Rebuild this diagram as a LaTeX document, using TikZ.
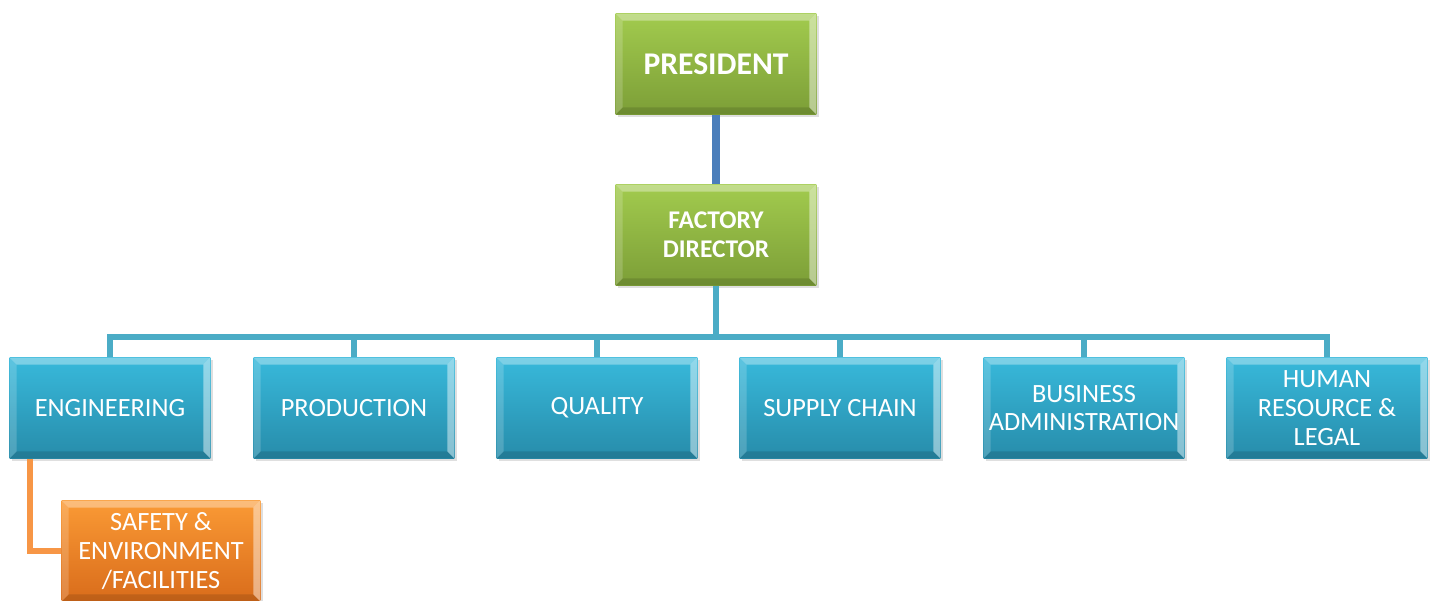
\documentclass[tikz,border=0pt]{standalone}
\usepackage{fontspec}
\setmainfont{Carlito}
\usetikzlibrary{shadows,calc}

\definecolor{greentop}{HTML}{A2CB4E}
\definecolor{greenbot}{HTML}{7C9E37}
\definecolor{bluetop}{HTML}{38B9DB}
\definecolor{bluebot}{HTML}{278CAA}
\definecolor{orangetop}{HTML}{FA9A35}
\definecolor{orangebot}{HTML}{D96C1B}
\definecolor{busblue}{HTML}{4BACC6}
\definecolor{topline}{HTML}{4A7EBB}
\definecolor{orangeline}{HTML}{F79646}

\begin{document}
\begin{tikzpicture}[x=0.02cm, y=-0.02cm,
      every node/.append style={text=white, align=center},
      bevel/.style={path picture={
        \fill[white,opacity=.35] (path picture bounding box.north west) -- (path picture bounding box.north east)
          -- ([shift={(-4pt,-4pt)}]path picture bounding box.north east) -- ([shift={(4pt,-4pt)}]path picture bounding box.north west) -- cycle;
        \fill[white,opacity=.18] (path picture bounding box.north west) -- (path picture bounding box.south west)
          -- ([shift={(4pt,4pt)}]path picture bounding box.south west) -- ([shift={(4pt,-4pt)}]path picture bounding box.north west) -- cycle;
        \fill[white,opacity=.45] (path picture bounding box.north east) -- (path picture bounding box.south east)
          -- ([shift={(-4pt,4pt)}]path picture bounding box.south east) -- ([shift={(-4pt,-4pt)}]path picture bounding box.north east) -- cycle;
        \fill[black,opacity=.12] (path picture bounding box.south west) -- (path picture bounding box.south east)
          -- ([shift={(-4pt,4pt)}]path picture bounding box.south east) -- ([shift={(4pt,4pt)}]path picture bounding box.south west) -- cycle;
      }}]
    \tikzstyle{unit} = [minimum width=4.02cm, minimum height=2.02cm, inner sep=0pt, bevel,
      drop shadow={shadow xshift=1.5pt, shadow yshift=-1.5pt, opacity=.25}]
    \tikzstyle{head} = [unit, top color=greentop, bottom color=greenbot, font=\bfseries\fontsize{14.5}{16.4}\selectfont]
    \tikzstyle{dept} = [unit, top color=bluetop, bottom color=bluebot, font=\fontsize{15}{16.4}\selectfont]
    \tikzstyle{sub} = [unit, minimum width=3.98cm, top color=orangetop, bottom color=orangebot, font=\fontsize{15}{16.4}\selectfont]
    \tikzstyle{bus} = [draw=busblue, line width=3.4pt]
    \useasboundingbox (0,0) rectangle (1438,601);

    \node[head, font=\bfseries\fontsize{18}{20}\selectfont] (president) at (716,64) {PRESIDENT};
    \node[head] (director) at (716,235) {FACTORY\\DIRECTOR};

    \node[dept] (engineering) at (110,408) {ENGINEERING};
    \node[dept] (production) at (354,408) {PRODUCTION};
    \node[dept] (quality) at (597,408) {QUALITY};
    \node[dept] (supply) at (840,408) {SUPPLY CHAIN};
    \node[dept] (business) at (1084,408) {BUSINESS\\ADMINISTRATION};
    \node[dept] (human) at (1327,408) {HUMAN\\RESOURCE \&\\LEGAL};

    \node[sub] (safety) at (161,551) {SAFETY \&\\ENVIRONMENT\\/FACILITIES};

    % connectors
    \draw[draw=topline, line width=4.5pt] (president.south) -- (director.north);
    \foreach \d in {engineering,production,quality,supply,business,human}
      \draw[bus] (director.south) -- ++(0,51) -| (\d.north);
    \draw[draw=orangeline, line width=3.4pt] ($(engineering.south west)+(21,0)$) |- (safety.west);
\end{tikzpicture}
\end{document}
